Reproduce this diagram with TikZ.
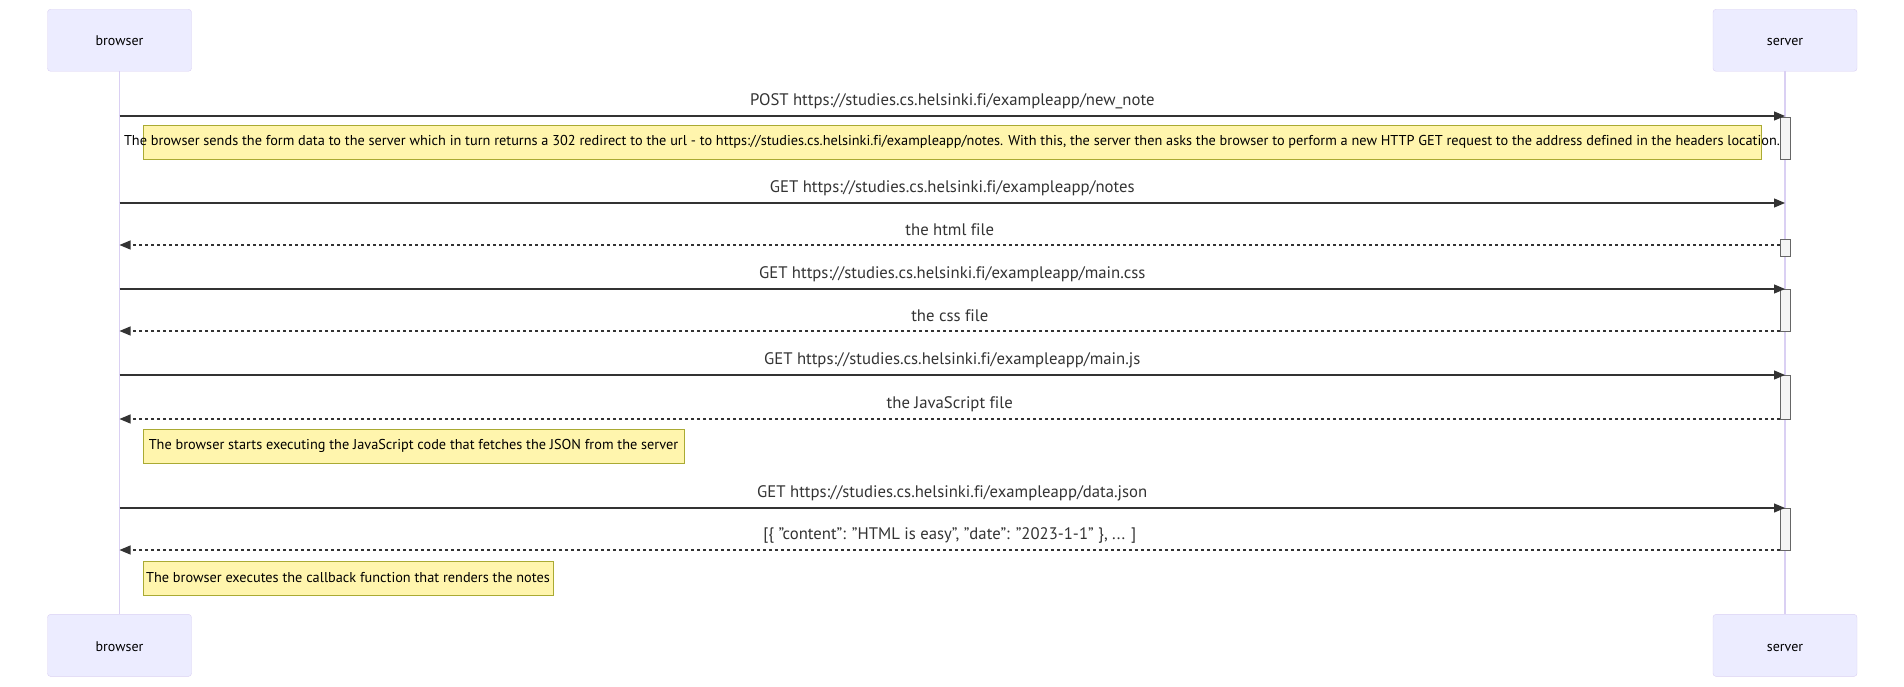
\documentclass[tikz,border=0pt]{standalone}
\usepackage{fontspec}
\setmainfont[Ligatures=NoCommon]{PT Sans}
\usetikzlibrary{arrows.meta}

\definecolor{actorfill}{HTML}{ECECFF}
\definecolor{actorline}{HTML}{DAD0F3}
\definecolor{notefill}{HTML}{FFF5AD}
\definecolor{noteline}{HTML}{AAAA33}
\definecolor{actfill}{HTML}{F4F4F4}
\definecolor{actline}{HTML}{666666}
\definecolor{msgline}{HTML}{333333}

\tikzset{
  actor/.style={
    rectangle,
    rounded corners=3pt,
    draw=actorline,
    fill=actorfill,
    minimum width=144pt,
    minimum height=62pt,
    text height=14pt,
    text depth=2.6pt,
    font=\fontsize{14}{17}\selectfont
  },
  lifeline/.style={draw=actorline, line width=1.5pt},
  act/.style={
    rectangle,
    draw=actline,
    fill=actfill,
    line width=0.8pt,
    inner sep=0pt,
    minimum width=10pt
  },
  msg/.style={draw=msgline, line width=1.2pt, -{Triangle[length=11pt,width=9pt]}},
  reply/.style={msg, dash pattern=on 3pt off 3pt},
  lbl/.style={font=\fontsize{16.7}{19}\selectfont, text=msgline, inner sep=0pt, yshift=15pt},
  note/.style={rectangle, draw=noteline, fill=notefill, line width=0.8pt, minimum height=34pt},
  notetext/.style={font=\fontsize{14.3}{17}\selectfont, inner sep=0pt},
}

\begin{document}
\begin{tikzpicture}[x=1pt, y=-1pt]
  \useasboundingbox (0,0) rectangle (1904,687);
  % actors
  \node[actor] (browser) at (119.5, 40.3) {browser};
  \node[actor] (server) at (1785, 40.3) {server};
  \node[actor] (browserb) at (119.5, 645.4) {browser};
  \node[actor] (serverb) at (1785, 645.4) {server};
  \draw[lifeline] (browser) -- (browserb);
  \draw[lifeline] (server) -- (serverb);

  % activations
  \node[act, minimum height=42pt] (a1) at (1785, 138) {};
  \node[act, minimum height=17pt] (a2) at (1785, 248) {};
  \node[act, minimum height=42pt] (a3) at (1785, 310) {};
  \node[act, minimum height=44pt] (a4) at (1785, 397) {};
  \node[act, minimum height=42pt] (a5) at (1785, 529) {};

  % message ends
  \coordinate (b1) at (119.5, 116);
  \coordinate (s1) at (1785, 116);
  \coordinate (b2) at (119.5, 203);
  \coordinate (s2) at (1785, 203);
  \coordinate (b3) at (119.5, 245);
  \coordinate (s3) at (1780, 245);
  \coordinate (b4) at (119.5, 289);
  \coordinate (s4) at (1785, 289);
  \coordinate (b5) at (119.5, 331);
  \coordinate (s5) at (1780, 331);
  \coordinate (b6) at (119.5, 375);
  \coordinate (s6) at (1785, 375);
  \coordinate (b7) at (119.5, 419);
  \coordinate (s7) at (1780, 419);
  \coordinate (b8) at (119.5, 508);
  \coordinate (s8) at (1785, 508);
  \coordinate (b9) at (119.5, 550);
  \coordinate (s9) at (1780, 550);

  \draw[msg] (b1) -- node[lbl] {POST https://studies.cs.helsinki.fi/exampleapp/new\_note} (s1);
  \node[note, minimum width=1618pt] (n1) at (952, 142) {};
  \node[notetext] at (n1.center) {The browser sends the form data to the server which in turn returns a 302 redirect to the url - to https://studies.cs.helsinki.fi/exampleapp/notes. With this, the server then asks the browser to perform a new HTTP GET request to the address defined in the headers location.};
  \draw[msg] (b2) -- node[lbl] {GET https://studies.cs.helsinki.fi/exampleapp/notes} (s2);
  \draw[reply] (s3) -- node[lbl] {the html file} (b3);
  \draw[msg] (b4) -- node[lbl] {GET https://studies.cs.helsinki.fi/exampleapp/main.css} (s4);
  \draw[reply] (s5) -- node[lbl] {the css file} (b5);
  \draw[msg] (b6) -- node[lbl] {GET https://studies.cs.helsinki.fi/exampleapp/main.js} (s6);
  \draw[reply] (s7) -- node[lbl] {the JavaScript file} (b7);
  \node[note, minimum width=541pt] (n2) at (413.5, 446) {};
  \node[notetext] at (n2.center) {The browser starts executing the JavaScript code that fetches the JSON from the server};
  \draw[msg] (b8) -- node[lbl] {GET https://studies.cs.helsinki.fi/exampleapp/data.json} (s8);
  \draw[reply] (s9) -- node[lbl] {[\{ "content": "HTML is easy", "date": "2023-1-1" \}, ... ]} (b9);
  \node[note, minimum width=410pt] (n3) at (348, 578) {};
  \node[notetext] at (n3.center) {The browser executes the callback function that renders the notes};
\end{tikzpicture}
\end{document}
